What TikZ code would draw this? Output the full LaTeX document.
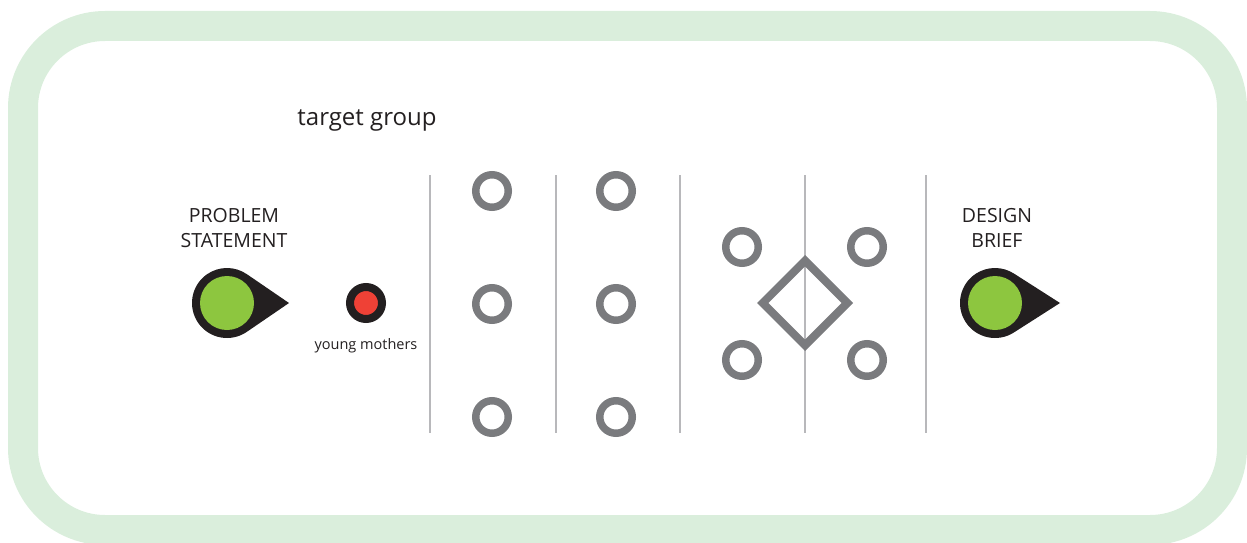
\documentclass[tikz,border=0pt]{standalone}
\usepackage{fontspec}
\setmainfont{Open Sans}
\usepackage{xcolor}
\usetikzlibrary{positioning, shapes.geometric}
\definecolor{bandgreen}{HTML}{DAEEDC}
\definecolor{ringgray}{HTML}{7A7B7E}
\definecolor{linegray}{HTML}{B8B8BB}
\definecolor{pinblack}{HTML}{231F20}
\definecolor{dotgreen}{HTML}{8DC63F}
\definecolor{dotred}{HTML}{EF4136}

\begin{document}
\begin{tikzpicture}[
  x=1pt, y=-1pt,
  ring/.style={circle, draw=ringgray, line width=7.5pt, minimum size=32.5pt, inner sep=0pt},
  greendot/.style={circle, fill=dotgreen, minimum size=54pt, inner sep=0pt},
  reddot/.style={circle, fill=dotred, draw=pinblack, line width=8pt, minimum size=32pt, inner sep=0pt},
  choice/.style={diamond, draw=ringgray, line width=8pt, minimum width=88pt, minimum height=88pt, inner sep=0pt},
  lbl/.style={align=center, text=pinblack, font=\fontsize{19.5}{25}\selectfont},
  divider/.style={linegray, line width=1.5pt}
]
\useasboundingbox (0,0) rectangle (1247,543);
\draw[bandgreen, line width=30pt, rounded corners=82pt] (23,26) rectangle (1232,530);

\node[text=pinblack, font=\fontsize{24}{28}\selectfont, anchor=base] (target) at (367,125) {target group};

% stage dividers
\foreach \x in {430,556,680,805,926}
  \draw[divider] (\x,175) -- (\x,433);

% rings
\foreach \x/\c in {492/a,616/b}
  \foreach \y/\r in {191/1,304/2,417/3}
    \node[ring] (ring\c\r) at (\x,\y) {};
\foreach \x/\c in {742/c,867/d}
  \foreach \y/\r in {247/1,360/2}
    \node[ring] (ring\c\r) at (\x,\y) {};
\node[choice] (decide) at (805,303) {};

% start and end markers
\coordinate (psc) at (227,303);
\coordinate (dbc) at (995,303);
\fill[pinblack, shift={(psc)}] (62,0) -- (55:35) arc[start angle=55, end angle=305, radius=35] -- cycle;
\fill[pinblack, shift={(dbc)}] (65,0) -- (57:35) arc[start angle=57, end angle=303, radius=35] -- cycle;
\node[greendot] (problem) at (psc) {};
\node[greendot] (brief) at (dbc) {};
\node[lbl] (problemlbl) at (234,228) {PROBLEM\\STATEMENT};
\node[lbl] (brieflbl) at (997,228) {DESIGN\\BRIEF};

\node[reddot] (mothers) at (366,303) {};
\node[text=pinblack, font=\fontsize{14.5}{16}\selectfont, below=12pt of mothers] (motherslbl) {young mothers};
\end{tikzpicture}
\end{document}
